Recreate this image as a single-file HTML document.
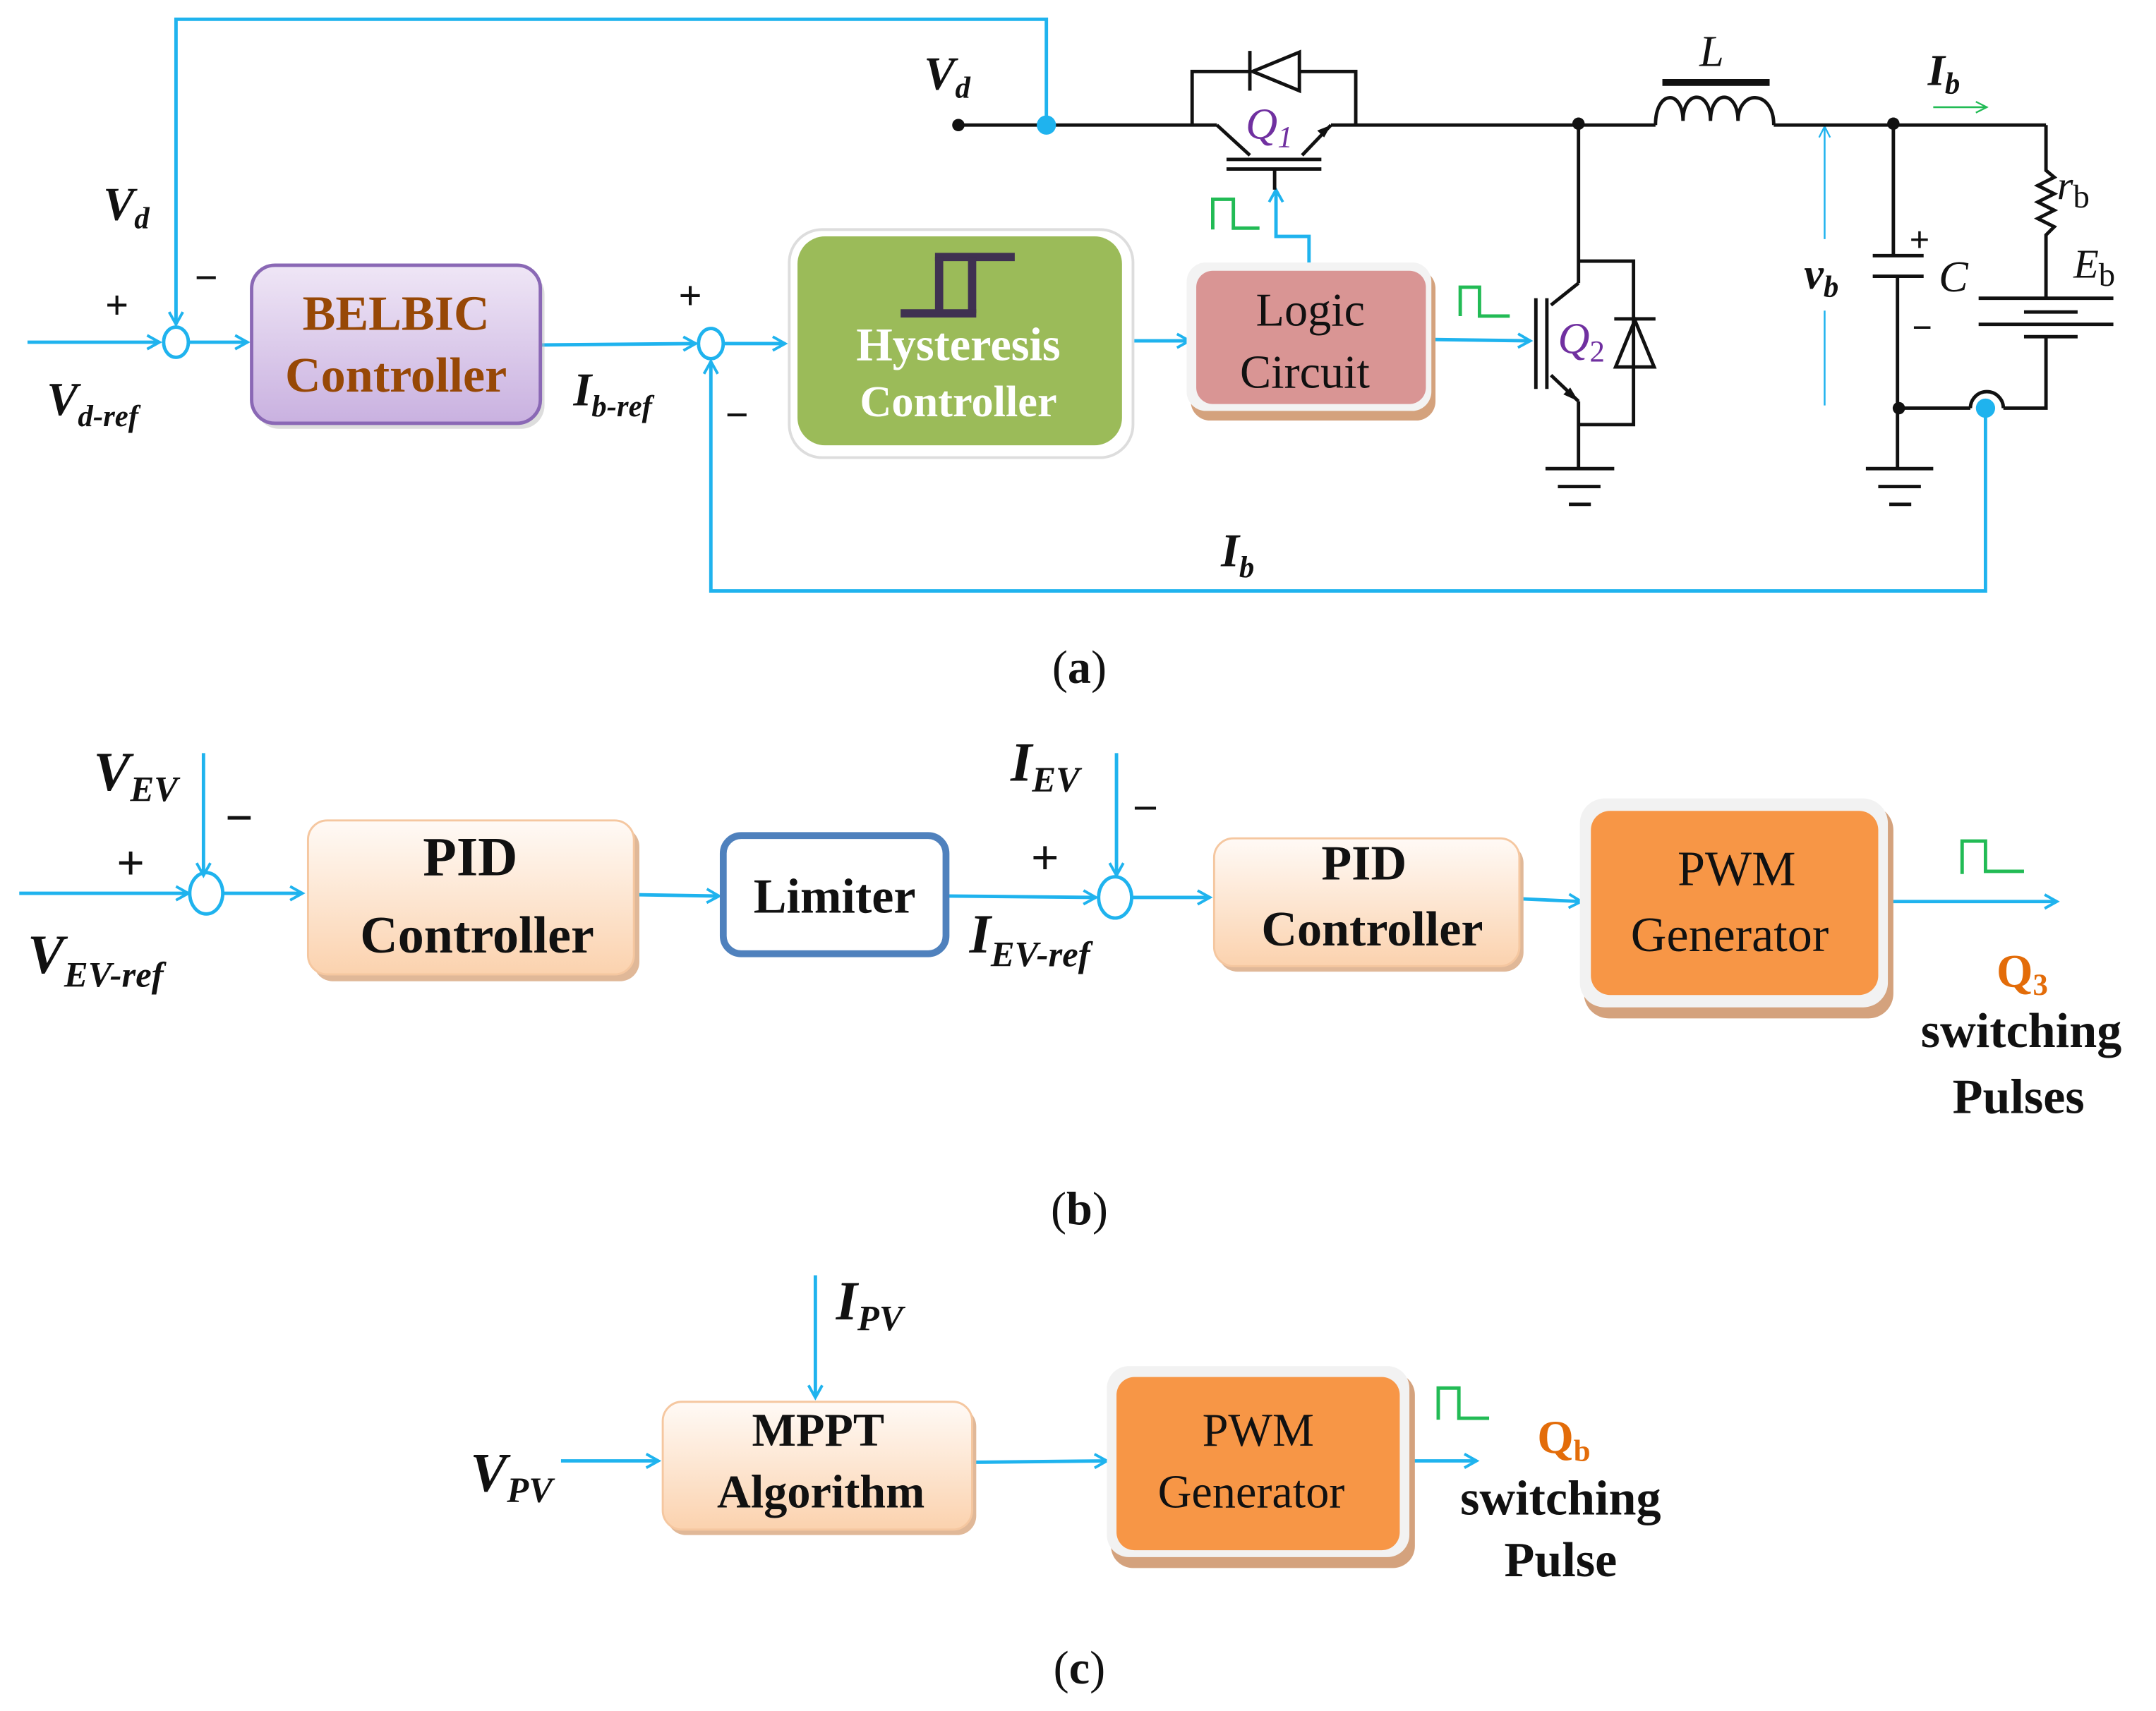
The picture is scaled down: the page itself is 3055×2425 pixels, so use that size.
<!DOCTYPE html>
<html><head><meta charset="utf-8"><style>
html,body{margin:0;padding:0;background:#fff}
svg{display:block}
.s{font-family:"Liberation Serif",serif}
.i{font-family:"Liberation Serif",serif;font-style:italic}
</style></head><body>
<svg width="3055" height="2425" viewBox="0 0 1568 1245" preserveAspectRatio="none" xmlns="http://www.w3.org/2000/svg">
<defs>
<marker id="a" markerWidth="12" markerHeight="12" refX="10" refY="6" orient="auto" markerUnits="userSpaceOnUse">
<path d="M1,1 L10,6 L1,11" fill="none" stroke="#1fb3ee" stroke-width="2"/></marker>
<marker id="at" markerWidth="10" markerHeight="10" refX="9" refY="5" orient="auto" markerUnits="userSpaceOnUse">
<path d="M1,1 L9,5 L1,9" fill="none" stroke="#1fb3ee" stroke-width="1.2"/></marker>
<marker id="ag" markerWidth="10" markerHeight="10" refX="9" refY="5" orient="auto" markerUnits="userSpaceOnUse">
<path d="M1,1 L9,5 L1,9" fill="none" stroke="#22bb55" stroke-width="1.2"/></marker>
<linearGradient id="pu" x1="0" y1="0" x2="0" y2="1"><stop offset="0" stop-color="#efe6f6"/><stop offset="1" stop-color="#c9b1e0"/></linearGradient>
<linearGradient id="pe" x1="0" y1="0" x2="0" y2="1"><stop offset="0" stop-color="#fffaf6"/><stop offset="1" stop-color="#fbd2ae"/></linearGradient>
</defs>
<g fill="none" stroke="#1fb3ee" stroke-width="2.5">
<polyline points="761,91 761,14 128,14 128,236" marker-end="url(#a)"/>
<line x1="20" y1="249" x2="116" y2="249" marker-end="url(#a)"/>
<ellipse cx="128" cy="249" rx="9" ry="11"/>
<line x1="138" y1="249" x2="180" y2="249" marker-end="url(#a)"/>
<line x1="393" y1="251" x2="506" y2="250" marker-end="url(#a)"/>
<ellipse cx="517" cy="250" rx="9" ry="11"/>
<line x1="527" y1="250" x2="571" y2="250" marker-end="url(#a)"/>
<line x1="823" y1="248" x2="865" y2="248" marker-end="url(#a)"/>
<line x1="1040" y1="247" x2="1113" y2="248" marker-end="url(#a)"/>
<polyline points="952,196 952,172 928,172 928,138" marker-end="url(#a)"/>
<polyline points="1444,297 1444,430 517,430 517,263" marker-end="url(#a)"/>
<line x1="14" y1="650" x2="137" y2="650" marker-end="url(#a)"/>
<line x1="148" y1="548" x2="148" y2="637" marker-end="url(#a)"/>
<ellipse cx="150" cy="650" rx="12" ry="15"/>
<line x1="162" y1="650" x2="220" y2="650" marker-end="url(#a)"/>
<line x1="462" y1="651" x2="523" y2="652" marker-end="url(#a)"/>
<line x1="689" y1="652" x2="797" y2="653" marker-end="url(#a)"/>
<line x1="812" y1="548" x2="812" y2="637" marker-end="url(#a)"/>
<ellipse cx="811" cy="653" rx="12" ry="15"/>
<line x1="823" y1="653" x2="880" y2="653" marker-end="url(#a)"/>
<line x1="1106" y1="654" x2="1150" y2="656" marker-end="url(#a)"/>
<line x1="1372" y1="656" x2="1496" y2="656" marker-end="url(#a)"/>
<line x1="593" y1="928" x2="593" y2="1017" marker-end="url(#a)"/>
<line x1="408" y1="1063" x2="479" y2="1063" marker-end="url(#a)"/>
<line x1="708" y1="1064" x2="805" y2="1063" marker-end="url(#a)"/>
<line x1="1027" y1="1063" x2="1074" y2="1063" marker-end="url(#a)"/>
</g>
<line x1="1327" y1="295" x2="1327" y2="226" stroke="#1fb3ee" stroke-width="1.3"/>
<line x1="1327" y1="174" x2="1327" y2="92" stroke="#1fb3ee" stroke-width="1.3" marker-end="url(#at)"/>
<line x1="1406" y1="78" x2="1445" y2="78" stroke="#22bb55" stroke-width="1.3" marker-end="url(#ag)"/>
<g fill="none" stroke="#22bb55" stroke-width="2.5">
<polyline points="882,167 882,145 897,145 897,166 916,166"/>
<polyline points="1062,230 1062,209 1076,209 1076,230 1098,230"/>
<polyline points="1427,636 1427,612 1444,612 1444,634 1472,634"/>
<polyline points="1046,1033 1046,1010 1061,1010 1061,1032 1083,1032"/>
</g>
<g fill="none" stroke="#111" stroke-width="2.5">
<line x1="697" y1="91" x2="885" y2="91"/>
<line x1="885" y1="91" x2="909" y2="113"/>
<line x1="947" y1="113" x2="968" y2="91"/>
<line x1="968" y1="91" x2="1204" y2="91"/>
<line x1="892" y1="116" x2="961" y2="116"/><line x1="892" y1="123" x2="961" y2="123"/>
<line x1="927" y1="123" x2="927" y2="138"/>
<polyline points="867,91 867,52 909,52"/><polyline points="945,52 986,52 986,91"/>
<line x1="909" y1="37" x2="909" y2="66"/>
<polygon points="911,52 945,38 945,66"/>
<line x1="1148" y1="91" x2="1148" y2="206"/>
<line x1="1148" y1="206" x2="1128" y2="222"/>
<line x1="1128" y1="273" x2="1148" y2="292"/>
<line x1="1148" y1="292" x2="1148" y2="341"/>
<line x1="1125" y1="217" x2="1125" y2="283"/><line x1="1117" y1="217" x2="1117" y2="283"/>
<polyline points="1148,190 1188,190 1188,309 1148,309"/>
<line x1="1174" y1="232" x2="1204" y2="232"/>
<polygon points="1189,233 1175,267 1203,267"/>
<line x1="1124" y1="341" x2="1174" y2="341"/><line x1="1133" y1="354" x2="1164" y2="354"/><line x1="1141" y1="367" x2="1157" y2="367"/>
<path d="M1204,91 C1204,65 1224,65 1224,88 C1224,65 1244,65 1244,88 C1244,65 1264,65 1264,88 C1264,65 1290,65 1290,91"/>
<line x1="1290" y1="91" x2="1488" y2="91"/>
<line x1="1377" y1="91" x2="1377" y2="186"/>
<line x1="1362" y1="186" x2="1399" y2="186"/><line x1="1362" y1="201" x2="1399" y2="201"/>
<line x1="1380" y1="201" x2="1380" y2="341"/>
<line x1="1357" y1="341" x2="1406" y2="341"/><line x1="1366" y1="354" x2="1397" y2="354"/><line x1="1374" y1="367" x2="1390" y2="367"/>
<polyline points="1488,91 1488,124 1494,129 1482,135 1494,141 1482,147 1494,153 1482,159 1494,165 1488,171 1488,217"/>
<line x1="1439" y1="217" x2="1537" y2="217"/><line x1="1472" y1="227" x2="1511" y2="227"/>
<line x1="1439" y1="236" x2="1537" y2="236"/><line x1="1472" y1="245" x2="1511" y2="245"/>
<polyline points="1488,245 1488,297 1457,297"/>
<path d="M1433,297 A12,12 0 0 1 1457,297"/>
<line x1="1381" y1="297" x2="1433" y2="297"/>
</g>
<line x1="1209" y1="60" x2="1287" y2="60" stroke="#111" stroke-width="5"/>
<polygon points="968,91 958,95 963,100" fill="#111"/>
<polygon points="1148,292 1137,287 1142,282" fill="#111"/>
<circle cx="697" cy="91" r="4.5" fill="#111"/>
<circle cx="1148" cy="90" r="4.5" fill="#111"/>
<circle cx="1377" cy="90" r="4.5" fill="#111"/>
<circle cx="1381" cy="297" r="4.5" fill="#111"/>
<circle cx="761" cy="91" r="7" fill="#1fb3ee"/>
<circle cx="1444" cy="297" r="7" fill="#1fb3ee"/>
<rect x="186" y="197" width="210" height="115" rx="17" fill="#bbb" opacity="0.5"/>
<rect x="183" y="193" width="210" height="115" rx="17" fill="url(#pu)" stroke="#8a68b5" stroke-width="2.5"/>
<rect x="574" y="167" width="250" height="166" rx="24" fill="#fff" stroke="#ddd" stroke-width="2"/>
<rect x="580" y="172" width="236" height="152" rx="20" fill="#9bbb59"/>
<g stroke="#3f3151" stroke-width="6" fill="none">
<line x1="680" y1="187" x2="738" y2="187"/>
<line x1="683" y1="187" x2="683" y2="228"/>
<line x1="707" y1="187" x2="707" y2="228"/>
<line x1="655" y1="228" x2="710" y2="228"/>
</g>
<rect x="866" y="196" width="178" height="110" rx="14" fill="#d4a27d"/>
<rect x="863" y="191" width="178" height="108" rx="14" fill="#f3f3f3"/>
<rect x="870" y="197" width="167" height="97" rx="12" fill="#d99594"/>
<rect x="228" y="602" width="237" height="112" rx="14" fill="#e0b898"/>
<rect x="224" y="597" width="237" height="112" rx="14" fill="url(#pe)" stroke="#f5c7a0" stroke-width="1.5"/>
<rect x="526" y="608" width="162" height="86" rx="13" fill="#fff" stroke="#4f81bd" stroke-width="5"/>
<rect x="886" y="614" width="222" height="93" rx="14" fill="#e0b898"/>
<rect x="883" y="610" width="222" height="93" rx="14" fill="url(#pe)" stroke="#f5c7a0" stroke-width="1.5"/>
<rect x="1152" y="586" width="225" height="155" rx="18" fill="#d4a27d"/>
<rect x="1149" y="581" width="224" height="152" rx="18" fill="#f2f2f2"/>
<rect x="1157" y="590" width="209" height="134" rx="14" fill="#f79646"/>
<rect x="485" y="1024" width="225" height="93" rx="14" fill="#e0b898"/>
<rect x="482" y="1020" width="225" height="93" rx="14" fill="url(#pe)" stroke="#f5c7a0" stroke-width="1.5"/>
<rect x="808" y="999" width="221" height="142" rx="16" fill="#d4a27d"/>
<rect x="805" y="994" width="220" height="139" rx="16" fill="#f2f2f2"/>
<rect x="812" y="1002" width="206" height="126" rx="13" fill="#f79646"/>
<g class="s" font-weight="bold" text-anchor="middle">
<text x="288" y="240" font-size="36" fill="#974806">BELBIC</text>
<text x="288" y="285" font-size="36" fill="#974806">Controller</text>
<text x="697" y="262" font-size="34" fill="#fff">Hysteresis</text>
<text x="697" y="303" font-size="32" fill="#fff">Controller</text>
<text x="342" y="637" font-size="40" fill="#111">PID</text>
<text x="347" y="693" font-size="38" fill="#111">Controller</text>
<text x="607" y="664" font-size="36" fill="#111">Limiter</text>
<text x="992" y="640" font-size="36" fill="#111">PID</text>
<text x="998" y="688" font-size="36" fill="#111">Controller</text>
<text x="595" y="1052" font-size="34" fill="#111">MPPT</text>
<text x="597" y="1097" font-size="34" fill="#111">Algorithm</text>
<text x="1470" y="762" font-size="36" fill="#111">switching</text>
<text x="1468" y="810" font-size="36" fill="#111">Pulses</text>
<text x="1135" y="1102" font-size="36" fill="#111">switching</text>
<text x="1135" y="1147" font-size="36" fill="#111">Pulse</text>
</g>
<g class="s" text-anchor="middle" fill="#111">
<text x="953" y="237" font-size="34">Logic</text>
<text x="949" y="282" font-size="34">Circuit</text>
<text x="1263" y="644" font-size="36">PWM</text>
<text x="1258" y="692" font-size="36">Generator</text>
<text x="915" y="1052" font-size="34">PWM</text>
<text x="910" y="1097" font-size="34">Generator</text>
<text x="785" y="497" font-size="34">(<tspan font-weight="bold">a</tspan>)</text>
<text x="785" y="891" font-size="34">(<tspan font-weight="bold">b</tspan>)</text>
<text x="785" y="1225" font-size="34">(<tspan font-weight="bold">c</tspan>)</text>
</g>
<g class="i" fill="#111" font-weight="bold">
<text x="75" y="160" font-size="34">V<tspan font-size="22" dy="6">d</tspan></text>
<text x="34" y="302" font-size="34">V<tspan font-size="22" dy="8">d-ref</tspan></text>
<text x="417" y="295" font-size="34">I<tspan font-size="22" dy="8">b-ref</tspan></text>
<text x="672" y="65" font-size="34">V<tspan font-size="22" dy="6">d</tspan></text>
<text x="888" y="412" font-size="34">I<tspan font-size="22" dy="8">b</tspan></text>
<text x="1402" y="62" font-size="32">I<tspan font-size="22" dy="6">b</tspan></text>
<text x="1312" y="210" font-size="32">v<tspan font-size="22" dy="6">b</tspan></text>
<text x="68" y="575" font-size="40">V<tspan font-size="26" dy="8">EV</tspan></text>
<text x="20" y="708" font-size="40">V<tspan font-size="26" dy="10">EV-ref</tspan></text>
<text x="735" y="568" font-size="40">I<tspan font-size="26" dy="8">EV</tspan></text>
<text x="705" y="693" font-size="40">I<tspan font-size="26" dy="10">EV-ref</tspan></text>
<text x="608" y="960" font-size="40">I<tspan font-size="26" dy="8">PV</tspan></text>
<text x="342" y="1085" font-size="40">V<tspan font-size="26" dy="8">PV</tspan></text>
</g>
<g class="i" fill="#111">
<text x="1236" y="48" font-size="32">L</text>
<text x="1410" y="212" font-size="32">C</text>
<text x="1496" y="145" font-size="30">r<tspan font-style="normal" font-size="24" dy="6">b</tspan></text>
<text x="1508" y="202" font-size="30">E<tspan font-style="normal" font-size="24" dy="6">b</tspan></text>
</g>
<g class="i" fill="#7030a0" font-size="32">
<text x="906" y="101">Q<tspan font-size="22" dy="6">1</tspan></text>
<text x="1133" y="257">Q<tspan font-size="22" dy="6" font-style="normal">2</tspan></text>
</g>
<g class="s" fill="#e36c09" font-weight="bold" font-size="34">
<text x="1452" y="718">Q<tspan font-size="22" dy="6">3</tspan></text>
<text x="1118" y="1057">Q<tspan font-size="22" dy="6">b</tspan></text>
</g>
<g class="s" fill="#111" font-size="30" font-weight="bold" text-anchor="middle">
<text x="85" y="232">+</text><text x="150" y="212">−</text>
<text x="502" y="225">+</text><text x="536" y="312">−</text>
<text x="1396" y="183" font-size="26">+</text><text x="1398" y="247" font-size="26">−</text>
<text x="95" y="640" font-size="36">+</text><text x="174" y="607" font-size="36">−</text>
<text x="760" y="636" font-size="36">+</text><text x="833" y="585" font-size="30">_</text>
</g>
</svg>
</body></html>
